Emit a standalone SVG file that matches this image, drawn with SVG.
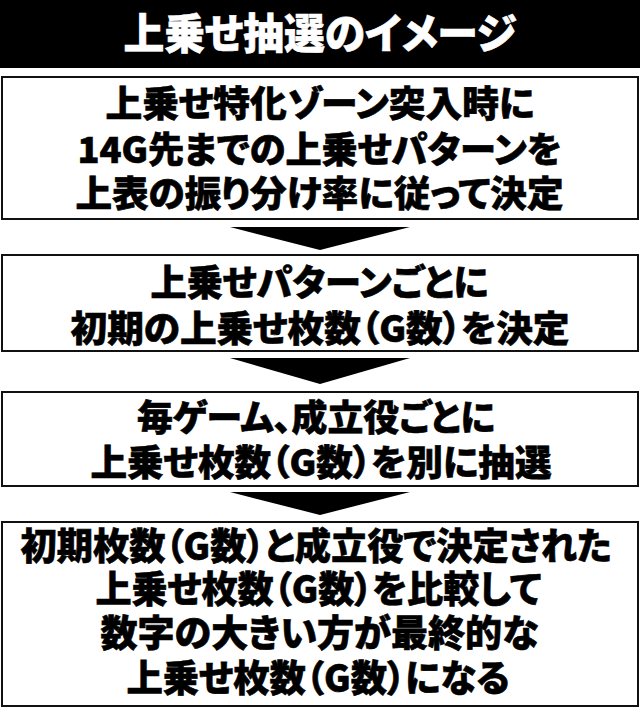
<svg xmlns="http://www.w3.org/2000/svg" width="640" height="709" viewBox="0 0 640 709">
<style>
.box{fill:#fff;stroke:#111;stroke-width:2}
.t{font-family:"Noto Sans CJK JP","Noto Sans CJK SC",sans-serif;font-weight:900;text-anchor:middle;fill:#000;stroke:#000;stroke-width:0.6;font-feature-settings:"palt" 1}
.s36{font-size:36px}
.s37{font-size:37px}
.h{font-family:"Noto Sans CJK JP","Noto Sans CJK SC",sans-serif;font-weight:900;font-size:42px;text-anchor:middle;fill:#fff;stroke:#fff;stroke-width:0.6;font-feature-settings:"palt" 1}
.arr{fill:#000}
</style>
<rect x="0" y="0" width="640" height="709" fill="#fff"/>
<g id="header">
<rect x="0" y="0" width="640" height="68" fill="#000"/>
<text class="h" x="320" y="49" textLength="393" lengthAdjust="spacingAndGlyphs">上乗せ抽選のイメージ</text>
</g>
<g id="connectors">
<polygon class="arr" points="230,227 410,227 320,250"/>
<polygon class="arr" points="230,358 410,358 320,384"/>
<polygon class="arr" points="230,492 410,492 320,515"/>
</g>
<g id="node1">
<rect class="box" x="2" y="77" width="636" height="142"/>
<text class="t s36" x="320" y="117" textLength="429" lengthAdjust="spacingAndGlyphs">上乗せ特化ゾーン突入時に</text>
<text class="t s36" x="319.5" y="163" textLength="484" lengthAdjust="spacingAndGlyphs">14G先までの上乗せパターンを</text>
<text class="t s36" x="319.5" y="207" textLength="488" lengthAdjust="spacingAndGlyphs">上表の振り分け率に従って決定</text>
</g>
<g id="node2">
<rect class="box" x="2" y="255" width="636" height="96"/>
<text class="t s36" x="319.5" y="296" textLength="338" lengthAdjust="spacingAndGlyphs">上乗せパターンごとに</text>
<text class="t s36" x="320" y="342" textLength="499" lengthAdjust="spacingAndGlyphs">初期の上乗せ枚数（G数）を決定</text>
</g>
<g id="node3">
<rect class="box" x="2" y="392" width="636" height="94"/>
<text class="t s36" x="316" y="431" textLength="358" lengthAdjust="spacingAndGlyphs">毎ゲーム、成立役ごとに</text>
<text class="t s36" x="321" y="476" textLength="461" lengthAdjust="spacingAndGlyphs">上乗せ枚数（G数）を別に抽選</text>
</g>
<g id="node4">
<rect class="box" x="2" y="522" width="636" height="184"/>
<text class="t s37" x="316" y="560" textLength="591" lengthAdjust="spacingAndGlyphs">初期枚数（G数）と成立役で決定された</text>
<text class="t s37" x="318.5" y="603" textLength="446" lengthAdjust="spacingAndGlyphs">上乗せ枚数（G数）を比較して</text>
<text class="t s37" x="319.5" y="647" textLength="438" lengthAdjust="spacingAndGlyphs">数字の大きい方が最終的な</text>
<text class="t s37" x="318" y="692" textLength="383" lengthAdjust="spacingAndGlyphs">上乗せ枚数（G数）になる</text>
</g>
</svg>
